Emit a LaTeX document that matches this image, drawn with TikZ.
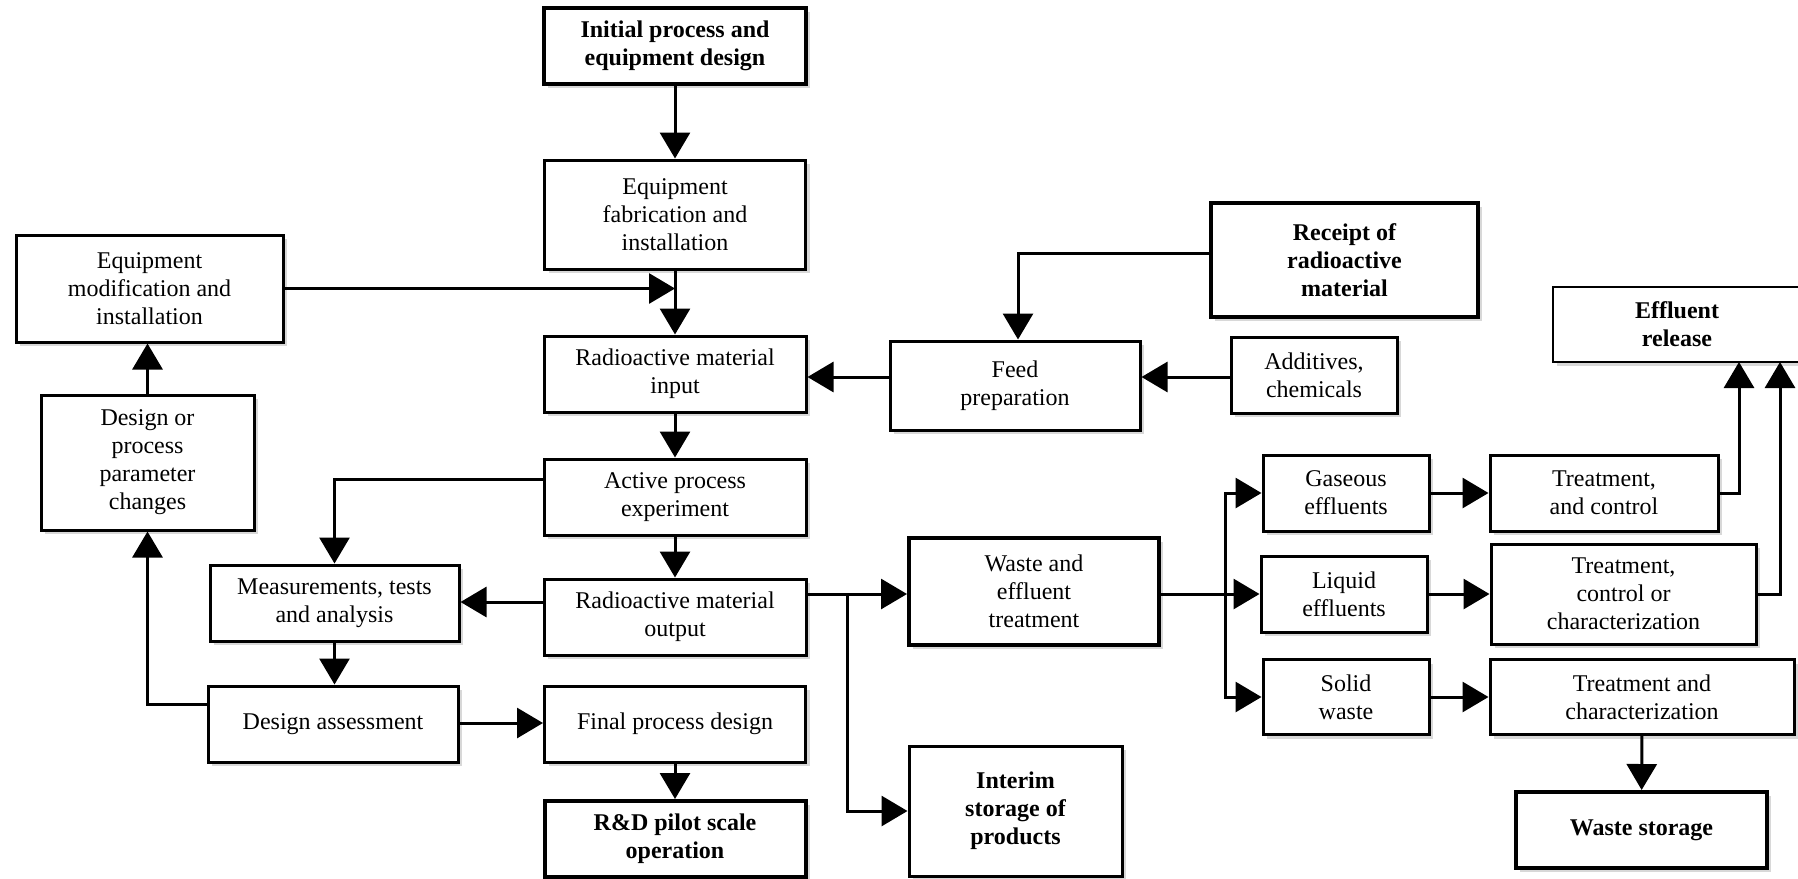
\documentclass[tikz,border=0pt]{standalone}
\usepackage{fontspec}
\setmainfont{Liberation Serif}
\usetikzlibrary{arrows.meta,shadows}
\begin{document}
\begin{tikzpicture}[x=0.5pt,y=-0.5pt,
  box/.style={draw, line width=1.5pt, fill=white, align=center, inner sep=2pt,
    font=\fontsize{12}{14}\selectfont,
    drop shadow={shadow xshift=2pt, shadow yshift=-2pt, fill=black!22, opacity=0.7}},
  bbox/.style={box, line width=2pt, font=\bfseries\fontsize{12}{14}\selectfont},
  conn/.style={line width=1.5pt, -{Triangle[length=13pt,width=15pt]}},
  plain/.style={line width=1.5pt}]
\useasboundingbox (0,0) rectangle (1798,878);
% left / centre column
\node[bbox, minimum width=131pt, minimum height=38pt] (init) at (675,46) {Initial process and\\equipment design};
\node[box, minimum width=130.5pt, minimum height=54.5pt] (fab) at (675,214.5) {Equipment\\fabrication and\\installation};
\node[box, minimum width=133.5pt, minimum height=53.5pt] (mod) at (149.5,288.5) {Equipment\\modification and\\installation};
\node[box, minimum width=131pt, minimum height=38pt] (input) at (675,374) {Radioactive material\\input};
\node[box, minimum width=106.5pt, minimum height=67.5pt] (dpc) at (147.5,462.5) {Design or\\process\\parameter\\changes};
\node[box, minimum width=131pt, minimum height=38pt] (active) at (675,497) {Active process\\experiment};
\node[box, minimum width=124.5pt, minimum height=38pt] (meas) at (334.5,603) {Measurements, tests\\and analysis};
\node[box, minimum width=131pt, minimum height=38pt] (output) at (675,617) {Radioactive material\\output};
\node[box, minimum width=125pt, minimum height=38pt] (assess) at (333,724) {Design assessment};
\node[box, minimum width=130.5pt, minimum height=38pt] (final) at (675,724) {Final process design};
\node[bbox, minimum width=130.5pt, minimum height=38pt] (rd) at (675,839) {R\&D pilot scale\\operation};
% feed side
\node[bbox, minimum width=133.5pt, minimum height=57pt] (receipt) at (1344.5,260) {Receipt of\\radioactive\\material};
\node[box, minimum width=125pt, minimum height=44.5pt] (feed) at (1015,385.5) {Feed\\preparation};
\node[box, minimum width=83pt, minimum height=38pt] (add) at (1314,375) {Additives,\\chemicals};
\node[box, line width=1.2pt, font=\bfseries\fontsize{12}{14}\selectfont, minimum width=124pt, minimum height=37.5pt] (eff) at (1677,324.5) {Effluent\\release};
% waste side
\node[box, line width=2pt, minimum width=125pt, minimum height=53.5pt] (waste) at (1034,591.5) {Waste and\\effluent\\treatment};
\node[bbox, line width=1.5pt, minimum width=106.5pt, minimum height=65pt] (interim) at (1015.5,811) {Interim\\storage of\\products};
\node[box, minimum width=83pt, minimum height=38pt] (gas) at (1346,493) {Gaseous\\effluents};
\node[box, minimum width=83pt, minimum height=38pt] (liq) at (1344,594) {Liquid\\effluents};
\node[box, minimum width=83pt, minimum height=37.5pt] (solid) at (1346,697) {Solid\\waste};
\node[box, minimum width=114pt, minimum height=38pt] (t1) at (1604,493) {Treatment,\\and control};
\node[box, minimum width=132.5pt, minimum height=50pt] (t2) at (1623.5,594) {Treatment,\\control or\\characterization};
\node[box, minimum width=152pt, minimum height=37.5pt] (t3) at (1642,697) {Treatment and\\characterization};
\node[bbox, minimum width=125.5pt, minimum height=38pt] (ws) at (1641.5,830) {Waste storage};
% helper coordinates
\coordinate (fy) at (0,377);
\coordinate (ry) at (1018,253);
\coordinate (ay) at (0,479);
\coordinate (oy) at (0,602);
\coordinate (dy) at (0,704);
\coordinate (fdy) at (0,723);
\coordinate (wy) at (0,594);
\coordinate (br1) at (847,594);
\coordinate (br2) at (1225,594);
\coordinate (e1) at (1739,362);
\coordinate (e2) at (1780,362);
% connectors
\draw[conn] (init) -- (fab);
\draw[conn] (fab) -- (input);
\draw[conn] (mod.east) -- (mod.east -| fab.south);
\draw[conn] (input) -- (active);
\draw[conn] (active) -- (output);
\draw[conn] (feed.west |- fy) -- (input.east |- fy);
\draw[conn] (receipt.west |- ry) -- (ry) -- (ry |- feed.north);
\draw[conn] (add.west |- fy) -- (feed.east |- fy);
\draw[conn] (active.west |- ay) -| (meas.north);
\draw[conn] (output.west |- oy) -- (meas.east |- oy);
\draw[conn] (meas.south) -- (meas.south |- assess.north);
\draw[conn] (assess.west |- dy) -| (dpc.south);
\draw[conn] (dpc.north) -- (dpc.north |- mod.south);
\draw[conn] (assess.east |- fdy) -- (final.west |- fdy);
\draw[conn] (final) -- (rd);
\draw[conn] (output.east |- wy) -- (waste.west |- wy);
\draw[conn] (br1) |- (interim.west);
\draw[plain] (waste.east |- wy) -- (br2);
\draw[conn] (br2) |- (gas.west);
\draw[conn] (br2) -- (liq.west);
\draw[conn] (br2) |- (solid.west);
\draw[conn] (gas) -- (t1);
\draw[conn] (liq) -- (t2);
\draw[conn] (solid) -- (t3);
\draw[conn] (t1.east) -| (e1);
\draw[conn] (t2.east) -| (e2);
\draw[conn] (t3) -- (ws);
\end{tikzpicture}
\end{document}
